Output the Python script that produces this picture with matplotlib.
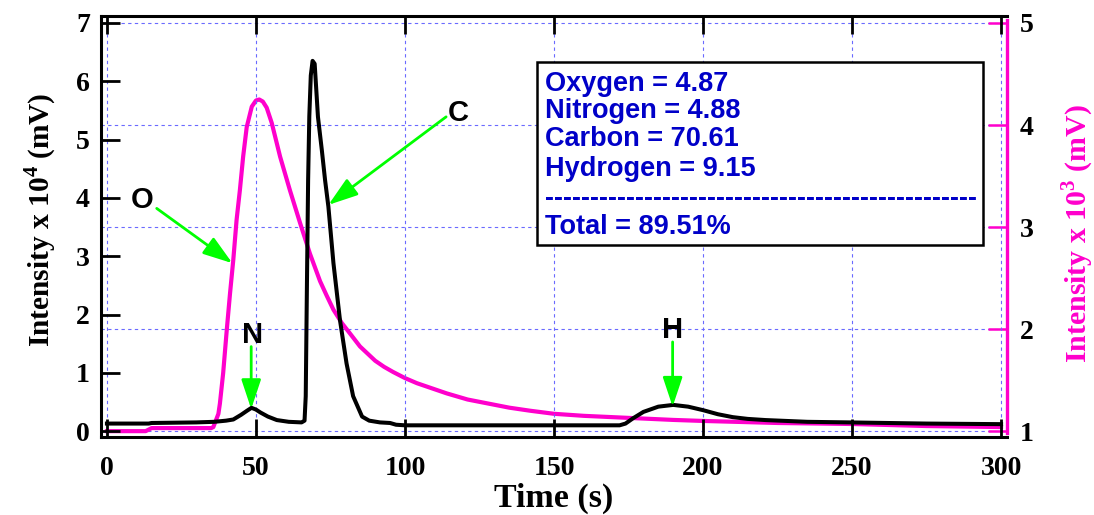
import matplotlib
matplotlib.use("Agg")
import matplotlib.pyplot as plt
from matplotlib.patches import Rectangle

# Carbon-channel signal (left axis, x 10^4 mV)
t_c = [0, 14, 15, 30, 36, 40, 42.4, 45, 47, 48.5, 50, 51.5, 54, 57, 61, 65.3,
       66.3, 66.7, 67.1, 67.5, 67.9, 68.4, 69, 69.7, 70.8, 72.1, 73.2, 74.3,
       76, 78.2, 80.4, 82.6, 83.2, 85.6, 88, 91.6, 95, 97, 100, 172, 174,
       176.5, 180, 185, 190, 195, 200, 205, 210, 215, 221, 235, 249, 275, 300]
i_c = [0.13, 0.13, 0.14, 0.15, 0.16, 0.18, 0.20, 0.28, 0.35, 0.40, 0.37, 0.32,
       0.25, 0.19, 0.16, 0.15, 0.18, 0.6, 2.5, 4.3, 5.4, 6.1, 6.35, 6.3, 5.39,
       4.82, 4.3, 3.85, 2.88, 1.9, 1.16, 0.6, 0.53, 0.25, 0.18, 0.15, 0.14,
       0.11, 0.10, 0.10, 0.13, 0.22, 0.33, 0.42, 0.45, 0.42, 0.36, 0.29, 0.24,
       0.21, 0.19, 0.16, 0.15, 0.13, 0.12]

# Oxygen-channel signal (right axis, x 10^3 mV)
t_o = [0, 13, 15, 35, 35.7, 37.4, 37.9, 39.0, 40.2, 41.3, 42.4, 43.5, 44.6,
       45.7, 46.9, 48.6, 50, 51.1, 52.3, 53.6, 55.3, 58.1, 61.4, 64.8, 68.1,
       71.5, 73.7, 76, 78.8, 82, 84.9, 90, 93, 96, 100, 104, 107, 114, 121,
       128, 135, 142, 150, 160, 175, 190, 200, 225, 250, 275, 300]
i_o = [1.00, 1.00, 1.03, 1.03, 1.04, 1.17, 1.27, 1.57, 1.99, 2.35, 2.68, 3.07,
       3.36, 3.69, 3.98, 4.18, 4.24, 4.25, 4.23, 4.17, 4.02, 3.69, 3.36, 3.04,
       2.74, 2.47, 2.33, 2.19, 2.06, 1.94, 1.83, 1.69, 1.63, 1.58, 1.52, 1.47,
       1.44, 1.37, 1.31, 1.27, 1.23, 1.20, 1.17, 1.15, 1.13, 1.11, 1.10, 1.08,
       1.07, 1.05, 1.04]

x_ticks = [0, 50, 100, 150, 200, 250, 300]
left_ticks = [0, 1, 2, 3, 4, 5, 6, 7]
right_ticks = [1, 2, 3, 4, 5]

summary_lines = ["Oxygen = 4.87", "Nitrogen = 4.88", "Carbon = 70.61",
                 "Hydrogen = 9.15", "-" * 48, "Total = 89.51%"]

peak_labels = ["O", "N", "C", "H"]
label_pos = [(11.7, 3.96), (48.7, 1.65), (117.8, 5.45), (189.9, 1.73)]
arrow_tail = [(16.7, 3.82), (48.4, 1.45), (113.8, 5.39), (189.8, 1.53)]
arrow_head = [(42.1, 2.88), (48.4, 0.38), (74.3, 3.88), (189.8, 0.42)]

PINK = "#FF00CC"
GREEN = "#00FF00"
BLUE_TXT = "#0000C8"
GRID = "#6A6AFF"

plt.rcParams["mathtext.fontset"] = "custom"
plt.rcParams["mathtext.rm"] = "Liberation Serif:bold"
plt.rcParams["mathtext.bf"] = "Liberation Serif:bold"

serif = dict(family="Liberation Serif", weight="bold")
sans = dict(family="Liberation Sans", weight="bold")

fig = plt.figure(figsize=(10.94, 5.15), dpi=100)
ax = fig.add_axes([0.0923, 0.1515, 0.8282, 0.8175])
ax2 = ax.twinx()
ax.set_zorder(2)
ax.patch.set_visible(False)
ax2.set_zorder(1)

y_lo, y_hi = -0.1, 7.12
ax.set_xlim(-2, 302)
ax.set_ylim(y_lo, y_hi)
ax2.set_ylim(1 + y_lo * 4 / 7, 1 + y_hi * 4 / 7)

ax2.plot(t_o, i_o, color=PINK, lw=3.0, solid_joinstyle="round", zorder=3)
ax.plot(t_c, i_c, color="black", lw=2.9, solid_joinstyle="round", zorder=3)

# grid
ax.set_xticks(x_ticks)
ax.set_yticks(left_ticks)
ax2.set_yticks(right_ticks)
ax.grid(axis="x", color=GRID, lw=0.8, ls=(0, (3, 3)))
ax.grid(axis="y", visible=False)
ax2.grid(axis="y", color=GRID, lw=0.8, ls=(0, (3, 3)))

# spines
for s in ["left", "bottom", "top"]:
    ax.spines[s].set_linewidth(2.2)
ax.spines["right"].set_visible(False)
for s in ["left", "bottom", "top"]:
    ax2.spines[s].set_visible(False)
ax2.spines["right"].set_color(PINK)
ax2.spines["right"].set_linewidth(2.4)
ax2.spines["right"].set_bounds(0.98, 5.03)

ax.tick_params(axis="x", direction="in", length=13, width=2.0, top=True,
               pad=14, labelsize=20)
ax.tick_params(axis="y", direction="in", length=14, width=2.0, right=False,
               pad=8, labelsize=20)
ax2.tick_params(axis="y", direction="in", length=14, width=1.8, color=PINK,
                labelcolor="black", pad=9, labelsize=20)
for lab in ax.get_xticklabels() + ax.get_yticklabels() + ax2.get_yticklabels():
    lab.set_fontfamily("Liberation Serif")
    lab.set_fontweight("bold")

ax.set_xlabel("Time (s)", fontsize=24.5, va="bottom", **serif)
ax.xaxis.set_label_coords(0.5, -0.183)
ax.set_ylabel(r"Intensity x 10$^{4}$ (mV)", fontsize=21.2, va="center", **serif)
ax.yaxis.set_label_coords(-0.067, 0.515)
ax2.set_ylabel(r"Intensity x 10$^{3}$ (mV)", fontsize=21.5, va="center",
               color=PINK, rotation=90, **serif)
ax2.yaxis.set_label_coords(1.078, 0.482)

# summary box
box = Rectangle((0.481, 0.456), 0.493, 0.435, transform=ax.transAxes,
                facecolor="white", edgecolor="black", lw=1.8, zorder=6)
ax.add_patch(box)
baselines = [0.8226, 0.757, 0.690, 0.620, 0.549, 0.482]
for txt, yb in zip(summary_lines, baselines):
    ax.text(0.490, yb, txt, transform=ax.transAxes, color=BLUE_TXT,
            fontsize=19.5, va="baseline", ha="left", zorder=7, **sans)

# peak labels with arrows
for lab, (lx, ly), tail, head in zip(peak_labels, label_pos, arrow_tail, arrow_head):
    ax.text(lx, ly, lab, fontsize=21, ha="center", va="center", zorder=7, **sans)
    ax.annotate("", xy=head, xytext=tail,
                arrowprops=dict(arrowstyle="-|>,head_length=0.9,head_width=0.3",
                                color=GREEN, lw=2.0, shrinkA=0, shrinkB=0,
                                mutation_scale=20),
                zorder=7)

fig.savefig("out.png", dpi=100)
